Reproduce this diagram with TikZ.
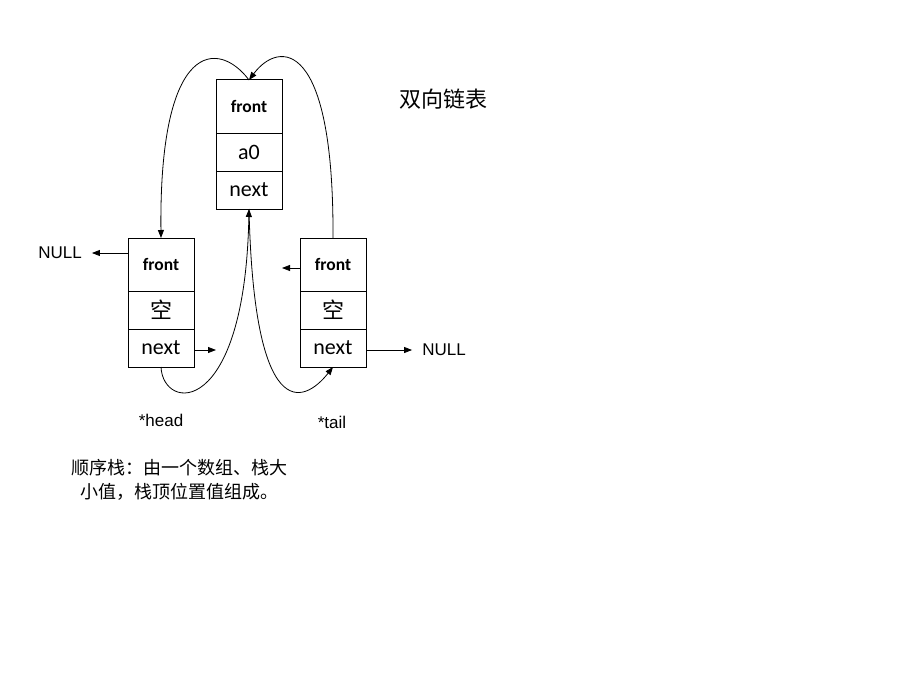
\documentclass[tikz,border=0pt]{standalone}
\usepackage{fontspec}
\setmainfont{Liberation Sans}
\newfontfamily\cjk{Noto Sans CJK SC}
\newfontfamily\carlito{Carlito}
\usetikzlibrary{arrows.meta,positioning}

\newcommand\cellfont{\carlito\fontsize{22}{26}\selectfont}
\newcommand\frontfont{\carlito\bfseries\fontsize{17.5}{20}\selectfont}
\newcommand\labelfont{\fontsize{17}{20}\selectfont}

\begin{document}
\begin{tikzpicture}[
  x=1pt, y=-1pt,
  node distance=0pt,
  cell/.style={draw, line width=1pt, minimum width=66pt, inner sep=0pt, outer sep=0pt, font=\cellfont},
  tall/.style={cell, minimum height=53pt, font=\frontfont},
  short/.style={cell, minimum height=38pt},
  arr/.style={-{Triangle[length=8pt,width=6pt]}, line width=0.8pt},
  nullarr/.style={arr, shorten >=10pt},
  txt/.style={inner sep=0pt, font=\labelfont}
]
\useasboundingbox (0,0) rectangle (920,690);

% middle node
\node[tall] (topfront) at (249,106.5) {front};
\node[short, below=of topfront] (topval) {a0};
\node[short, below=of topval] (topnext) {next};

% head node
\node[tall] (headfront) at (161,264.5) {front};
\node[short, below=of headfront] (headval) {\cjk 空};
\node[short, below=of headval] (headnext) {next};

% tail node
\node[tall] (tailfront) at (333,264.5) {front};
\node[short, below=of tailfront] (tailval) {\cjk 空};
\node[short, below=of tailval] (tailnext) {next};

\node[txt] (headnull) at (60,253) {NULL};
\node[txt] (tailnull) at (444,350) {NULL};
\node[txt] (headlabel) at (161,420) {*head};
\node[txt] (taillabel) at (332,422) {*tail};
\node[font=\cjk\fontsize{22}{26}\selectfont] (title) at (443,99) {双向链表};
\node[font=\cjk\fontsize{18}{24}\selectfont, align=center] (caption) at (179,480)
  {顺序栈：由一个数组、栈大\\小值，栈顶位置值组成。};

\coordinate (headout) at (216,350);
\coordinate (tailin) at (282,268);

\draw[nullarr] ([yshift=11.5pt]headfront.west) -- (headnull);
\draw[arr] ([yshift=-2pt]headnext.east) -- (headout);
\draw[arr] ([yshift=-3.5pt]tailfront.west) -- (tailin);
\draw[nullarr] ([yshift=-2pt]tailnext.east) -- ([yshift=0pt]tailnull.west);

\draw[arr] (headnext.south) .. controls +(2,45) and +(-4,210) .. (topnext.south);
\draw[arr] (topnext.south) .. controls +(5,215) and +(-30,38) .. (tailnext.south);
\draw[arr] (topfront.north) .. controls +(-30,-40) and +(-2,-200) .. (headfront.north);
\draw[arr] (tailfront.north) .. controls +(1,-200) and +(30,-40) .. (topfront.north);
\end{tikzpicture}
\end{document}
